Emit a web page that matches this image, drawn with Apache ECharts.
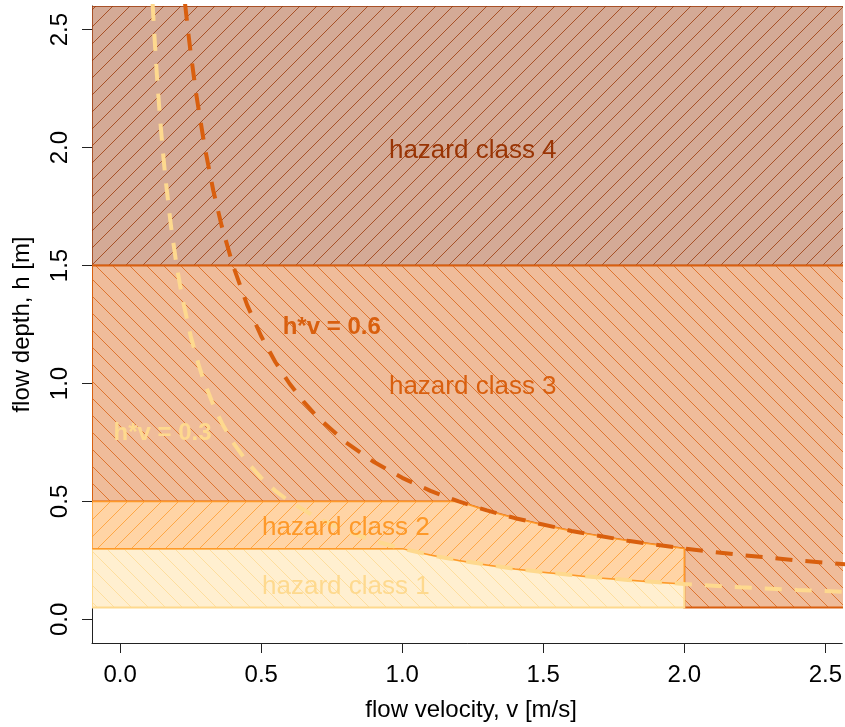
<!DOCTYPE html>
<html>
<head>
<meta charset="utf-8">
<script src="https://cdn.jsdelivr.net/npm/echarts@6/dist/echarts.min.js"></script>
<style>
  html, body { margin: 0; padding: 0; background: #ffffff; }
  #chart { width: 845px; height: 727px; }
</style>
</head>
<body>
<div id="chart"></div>
<script>
// Tick positions on both axes
const xTicks = [0, 0.5, 1, 1.5, 2, 2.5];
const yTicks = [0, 0.5, 1, 1.5, 2, 2.5];

// Hazard class regions as [v, h] vertices
const class1Poly = [[-0.1, 0.05], [2.0, 0.05], [2.0, 0.15], [1.9, 0.158], [1.8, 0.167], [1.7, 0.176], [1.6, 0.188],
  [1.5, 0.2], [1.4, 0.214], [1.3, 0.231], [1.2, 0.25], [1.1, 0.273], [1.0, 0.3], [-0.1, 0.3]];
const class2Poly = [[-0.1, 0.3], [1.0, 0.3], [1.1, 0.273], [1.2, 0.25], [1.3, 0.231], [1.4, 0.214], [1.5, 0.2],
  [1.6, 0.188], [1.7, 0.176], [1.8, 0.167], [1.9, 0.158], [2.0, 0.15], [2.0, 0.3], [1.9, 0.316], [1.8, 0.333],
  [1.7, 0.353], [1.6, 0.375], [1.5, 0.4], [1.4, 0.429], [1.3, 0.462], [1.2, 0.5], [-0.1, 0.5]];
const class3Poly = [[-0.1, 0.5], [1.2, 0.5], [1.3, 0.462], [1.4, 0.429], [1.5, 0.4], [1.6, 0.375], [1.7, 0.353],
  [1.8, 0.333], [1.9, 0.316], [2.0, 0.3], [2.0, 0.05], [2.6, 0.05], [2.6, 1.5], [-0.1, 1.5]];
const class4Poly = [[-0.1, 1.5], [2.6, 1.5], [2.6, 2.6], [-0.1, 2.6]];

// Iso-lines of specific discharge h*v
const hv03V = [0.115, 0.12, 0.13, 0.14, 0.15, 0.16, 0.18, 0.2, 0.22, 0.25, 0.28, 0.3, 0.33, 0.36, 0.4, 0.45, 0.5,
  0.55, 0.6, 0.7, 0.8, 0.9, 1.0, 1.1, 1.2, 1.4, 1.6, 1.8, 2.0, 2.2, 2.4, 2.6];
const hv03H = [2.609, 2.5, 2.308, 2.143, 2.0, 1.875, 1.667, 1.5, 1.364, 1.2, 1.071, 1.0, 0.909, 0.833, 0.75, 0.667,
  0.6, 0.545, 0.5, 0.429, 0.375, 0.333, 0.3, 0.273, 0.25, 0.214, 0.188, 0.167, 0.15, 0.136, 0.125, 0.115];
const hv06V = [0.23, 0.24, 0.25, 0.27, 0.3, 0.33, 0.36, 0.4, 0.45, 0.5, 0.55, 0.6, 0.65, 0.7, 0.8, 0.9, 1.0, 1.1,
  1.2, 1.3, 1.4, 1.6, 1.8, 2.0, 2.2, 2.4, 2.6];
const hv06H = [2.609, 2.5, 2.4, 2.222, 2.0, 1.818, 1.667, 1.5, 1.333, 1.2, 1.091, 1.0, 0.923, 0.857, 0.75, 0.667,
  0.6, 0.545, 0.5, 0.462, 0.429, 0.375, 0.333, 0.3, 0.273, 0.25, 0.231];

// Text annotations
const labelText = ['hazard class 1', 'hazard class 2', 'hazard class 3', 'hazard class 4', 'h*v = 0.6', 'h*v = 0.3'];
const labelV = [0.8, 0.8, 1.25, 1.25, 0.75, 0.15];
const labelH = [0.15, 0.4, 1.0, 2.0, 1.25, 0.8];

// Styling (YlOrBr ramp)
const FONT = '"Liberation Sans", Arial, Helvetica, sans-serif';
const C1 = '#FED98E', C2 = '#FE9929', C3 = '#D95F0E', C4 = '#993404';
const labelColor = [C1, C2, C3, C4, C3, C1];
const labelBold = [false, false, false, false, true, true];
const labelSize = [26, 26, 26, 26, 24, 24];

function hexToRgba(hex, a) {
  const n = parseInt(hex.slice(1), 16);
  return 'rgba(' + ((n >> 16) & 255) + ',' + ((n >> 8) & 255) + ',' + (n & 255) + ',' + a + ')';
}

// 45-degree hatch tile: translucent background plus one diagonal line
function hatch(color, forward) {
  const s = 17;
  const c = document.createElement('canvas');
  c.width = s; c.height = s;
  const g = c.getContext('2d');
  g.fillStyle = '#ffffff';
  g.fillRect(0, 0, s, s);
  g.fillStyle = hexToRgba(color, 0.42);
  g.fillRect(0, 0, s, s);
  g.strokeStyle = hexToRgba(color, 0.85);
  g.lineWidth = 0.9;
  g.beginPath();
  if (forward) {
    g.moveTo(-1, s + 1); g.lineTo(s + 1, -1);
    g.moveTo(-1, 1); g.lineTo(1, -1);
    g.moveTo(s - 1, s + 1); g.lineTo(s + 1, s - 1);
  } else {
    g.moveTo(-1, -1); g.lineTo(s + 1, s + 1);
    g.moveTo(-1, s - 1); g.lineTo(1, s + 1);
    g.moveTo(s - 1, -1); g.lineTo(s + 1, 1);
  }
  g.stroke();
  return { image: c, repeat: 'repeat' };
}

function region(points, color, forward, borderWidth, z) {
  const fill = hatch(color, forward);
  return {
    type: 'custom',
    coordinateSystem: 'cartesian2d',
    clip: true,
    silent: true,
    z: z,
    data: [[0, 0]],
    renderItem: function (params, api) {
      return {
        type: 'polygon',
        shape: { points: points.map(function (p) { return api.coord(p); }) },
        style: { fill: fill, stroke: color, lineWidth: borderWidth }
      };
    }
  };
}

function isoLine(vs, hs, color) {
  return {
    type: 'line',
    data: vs.map(function (v, i) { return [v, hs[i]]; }),
    showSymbol: false,
    symbol: 'none',
    silent: true,
    z: 10,
    clip: true,
    lineStyle: { color: color, width: 4, type: [17, 13], cap: 'butt' }
  };
}

const chart = echarts.init(document.getElementById('chart'), null, { renderer: 'canvas' });

const axisCommon = {
  type: 'value',
  axisLine: { show: true, onZero: false, lineStyle: { color: '#222222', width: 1 } },
  splitLine: { show: false },
  nameLocation: 'middle',
  nameTextStyle: { fontSize: 24, color: '#000000', fontFamily: FONT }
};

chart.setOption({
  animation: false,
  backgroundColor: '#ffffff',
  grid: { left: 92, top: 6, right: 0, bottom: 84, containLabel: false },
  xAxis: Object.assign({}, axisCommon, {
    min: -0.1, max: 2.56,
    name: 'flow velocity, v [m/s]',
    nameGap: 55,
    nameTextStyle: { fontSize: 24, color: '#000000', fontFamily: FONT, padding: [0, 0, 0, 8] },
    axisTick: { show: true, customValues: xTicks, length: 10, lineStyle: { color: '#222222' } },
    axisLabel: { customValues: xTicks, fontSize: 24, color: '#000000', fontFamily: FONT, margin: 20,
      formatter: function (v) { return v.toFixed(1); } }
  }),
  yAxis: Object.assign({}, axisCommon, {
    min: -0.1, max: 2.6,
    name: 'flow depth, h [m]',
    nameGap: 58,
    axisTick: { show: true, customValues: yTicks, length: 10, lineStyle: { color: '#222222' } },
    axisLabel: { customValues: yTicks, fontSize: 24, color: '#000000', fontFamily: FONT, margin: 20, rotate: 90,
      formatter: function (v) { return v.toFixed(1); } }
  }),
  series: [
    region(class4Poly, C4, true, 1.5, 1),
    region(class3Poly, C3, false, 2, 2),
    region(class1Poly, C1, false, 2, 3),
    region(class2Poly, C2, true, 1.5, 4),
    isoLine(hv03V, hv03H, C1),
    isoLine(hv06V, hv06H, C3),
    {
      type: 'custom',
      coordinateSystem: 'cartesian2d',
      silent: true,
      z: 20,
      data: labelV.map(function (v, i) { return [v, labelH[i]]; }),
      renderItem: function (params, api) {
        const i = params.dataIndex;
        const p = api.coord([api.value(0), api.value(1)]);
        return {
          type: 'text',
          x: p[0], y: p[1] + 3,
          style: {
            text: labelText[i],
            fill: labelColor[i],
            font: (labelBold[i] ? 'bold ' : '') + labelSize[i] + 'px ' + FONT,
            align: 'center',
            verticalAlign: 'middle'
          }
        };
      }
    }
  ]
});
</script>
</body>
</html>
